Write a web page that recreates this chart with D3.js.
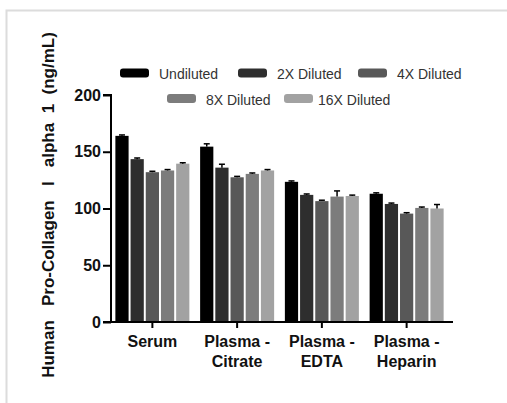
<!DOCTYPE html>
<html>
<head>
<meta charset="utf-8">
<script src="https://cdn.jsdelivr.net/npm/d3@7"></script>
<style>
  body { margin: 0; background: #fff; }
  svg { display: block; font-family: "Liberation Sans", Arial, sans-serif; }
</style>
</head>
<body>
<div id="chart"></div>
<script>
const categories = [["Serum"], ["Plasma -", "Citrate"], ["Plasma -", "EDTA"], ["Plasma -", "Heparin"]];
const series = ["Undiluted", "2X Diluted", "4X Diluted", "8X Diluted", "16X Diluted"];
const colors = ["#000000", "#2e2e2e", "#585858", "#7c7c7c", "#a2a2a2"];
const values = [
  [164, 143.5, 132, 133.5, 139.5],
  [154.5, 136, 127.5, 130.5, 133.5],
  [123.5, 112, 106.5, 110.5, 111],
  [113, 104, 95.5, 100.5, 100]
];
const errors = [
  [0.8, 1, 0.8, 0.8, 0.8],
  [2.5, 3, 0.8, 0.8, 0.8],
  [0.8, 0.8, 0.8, 5, 0.8],
  [0.8, 0.8, 0.8, 0.8, 3.5]
];
const yTicks = [0, 50, 100, 150, 200];

const W = 507, H = 403;
const svg = d3.select('#chart').append('svg').attr('width', W).attr('height', H);

// light frame
svg.append('path')
  .attr('d', `M6.5,${H} V10.5 H${W}`)
  .style('fill', 'none').style('stroke', '#dcdcdc').style('stroke-width', '2px');

const y = d3.scaleLinear().domain([0, 200]).range([322, 95]);
const x0 = d3.scaleBand().domain(d3.range(categories.length)).range([110, 449]).padding(0);
const half = x0.bandwidth() / 2;
const x1 = d3.scaleBand().domain(d3.range(series.length))
  .range([half - 37, half + 37]).paddingInner(0.13);

// bars
const group = svg.selectAll('.grp')
  .data(values)
  .enter()
  .append('g')
  .attr('class', 'grp')
  .attr('transform', (d, i) => `translate(${x0(i)},0)`);

group.selectAll('rect')
  .data(d => d.map((v, j) => ({ v, j })))
  .enter()
  .append('rect')
  .attr('x', d => x1(d.j))
  .attr('y', d => y(d.v))
  .attr('width', x1.bandwidth())
  .attr('height', d => y(0) - y(d.v))
  .style('fill', d => colors[d.j]);

// error bars
group.each(function (row, i) {
  const g = d3.select(this);
  row.forEach((v, j) => {
    const cx = x1(j) + x1.bandwidth() / 2;
    const top = y(v + errors[i][j]);
    g.append('line').attr('x1', cx).attr('x2', cx).attr('y1', y(v)).attr('y2', top)
      .style('stroke', '#000').style('stroke-width', '1.5px');
    g.append('line').attr('x1', cx - 3).attr('x2', cx + 3).attr('y1', top).attr('y2', top)
      .style('stroke', '#000').style('stroke-width', '1.5px');
  });
});

// y axis
const yAxis = svg.append('g')
  .attr('transform', 'translate(111,0)')
  .call(d3.axisLeft(y).tickValues(yTicks).tickSize(8).tickPadding(2));
yAxis.select('.domain').attr('d', `M-8,${y(200)}H0V${y(0)}H-8`).style('stroke-width', '2px');
yAxis.selectAll('.tick line').style('stroke-width', '2px');
yAxis.selectAll('text').style('font-size', '16px').style('font-weight', 'bold').style('fill', '#111');

// x axis
const xAxis = svg.append('g').attr('transform', `translate(0,${y(0)})`);
xAxis.append('line').attr('x1', 110).attr('x2', 453).attr('y1', 0).attr('y2', 0)
  .style('stroke', '#000').style('stroke-width', '2px');
categories.forEach((lines, i) => {
  const cx = x0(i) + half;
  xAxis.append('line').attr('x1', cx).attr('x2', cx).attr('y1', 0).attr('y2', 6)
    .style('stroke', '#000').style('stroke-width', '2px');
  const t = xAxis.append('text').attr('text-anchor', 'middle')
    .style('font-size', '16px').style('font-weight', 'bold').style('fill', '#111');
  lines.forEach((s, k) => {
    t.append('tspan').attr('x', cx).attr('y', 25 + k * 20).text(s);
  });
});

// y title
svg.append('text')
  .attr('transform', `translate(54,205) rotate(-90)`)
  .attr('text-anchor', 'middle')
  .attr('xml:space', 'preserve')
  .style('font-size', '17px').style('font-weight', 'bold').style('fill', '#111')
  .style('white-space', 'pre')
  .text('Human   Pro-Collagen   I   alpha  1  (ng/mL)');

// legend
const legendPos = [[120, 73, 10], [238, 73, 10], [358, 73, 10], [167, 98.5, 10], [284, 98.5, 5]];
series.forEach((s, j) => {
  const [lx, ly, gap] = legendPos[j];
  svg.append('rect').attr('x', lx).attr('y', ly - 4.5).attr('width', 29).attr('height', 9)
    .attr('rx', 3).style('fill', colors[j]);
  svg.append('text').attr('x', lx + 29 + gap).attr('y', ly + 6)
    .style('font-size', '14px').style('fill', '#333').text(s);
});
</script>
</body>
</html>
